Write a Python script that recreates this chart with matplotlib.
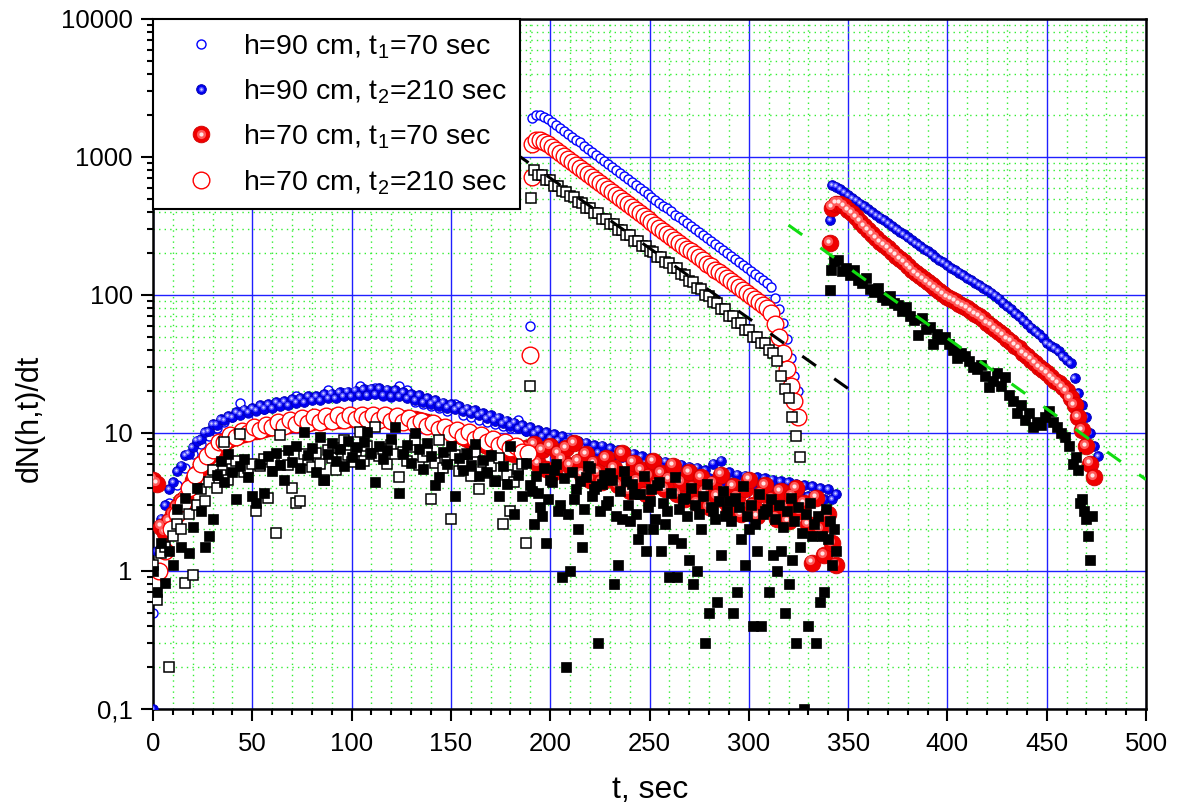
import numpy as np
import matplotlib
matplotlib.use("Agg")
import matplotlib.pyplot as plt
from matplotlib import transforms
from matplotlib.lines import Line2D
from matplotlib.legend_handler import HandlerTuple
from matplotlib.ticker import FixedLocator, FixedFormatter, LogLocator, MultipleLocator, NullFormatter

plt.rcParams['font.family'] = ['Liberation Sans', 'DejaVu Sans']
plt.rcParams['mathtext.fontset'] = 'custom'
plt.rcParams['mathtext.rm'] = 'Liberation Sans'

# ---------------- data ----------------
# early phase, t = 0, 2, 4 ... 344 s
blue_fill_early = [0.1, 1.4, 2.4, 3.0, 3.9, 4.4, 5.3, 5.8, 6.9, 7.1, 7.9, 8.8, 9.0, 10.1, 10.3, 11.6, 11.5, 12.6, 12.4, 13.3,
                   13.1, 14.2, 13.6, 14.8, 14.1, 15.2,
                   14.6, 15.9, 15.0, 16.2, 15.1, 16.8, 15.8, 17.0, 16.0, 17.6, 16.6, 17.8, 16.7, 18.4, 17.3, 18.6, 17.2, 19.2,
                   17.9, 19.3, 18.0, 19.8, 18.4, 19.9, 18.6,
                   20.3, 18.8, 20.7, 18.7, 21.0, 19.2, 21.2, 18.9, 20.6, 18.6, 20.5, 18.4, 19.8, 17.9, 19.2, 17.3, 18.7, 16.8,
                   17.8, 16.3, 17.2, 15.8, 16.6, 15.3, 16.1,
                   14.9, 15.7, 14.4, 15.0, 13.9, 14.6, 13.4, 13.9, 12.8, 13.5, 12.3, 12.9, 11.8, 12.3, 11.3, 11.9, 10.8, 11.4,
                   10.4, 11.0, 9.9, 10.5, 9.5, 10.1, 9.2,
                   9.8, 8.9, 9.5, 8.5, 9.1, 8.2, 8.8, 7.9, 8.5, 7.6, 8.2, 7.3, 8.1, 7.1, 7.8, 6.9, 7.5, 6.7, 7.3, 6.4, 7.1, 6.2,
                   6.8, 6.0, 6.6,
                   5.8, 6.4, 5.6, 6.2, 5.4, 6.0, 5.2, 5.9, 5.1, 5.7, 4.9, 5.6, 4.8, 5.4, 4.7, 6.0, 4.6, 6.3, 4.5, 5.2, 4.4, 5.0,
                   4.3, 4.9, 4.5,
                   4.2, 4.8, 4.1, 4.7, 4.0, 4.6, 3.9, 4.5, 3.8, 4.4, 3.7, 4.3, 3.6, 4.2, 3.5, 4.1, 3.4, 4.0, 3.3, 3.9, 3.3, 3.6]
red_fill_early = [4.6, 4.3, 2.1, 1.9, 2.3, 2.6, 2.9, 3.2, 3.4, 4.0,
                  4.6, 5.1, 5.6, 6.2, 6.8, 7.2, 7.7, 8.1, 8.5, 8.9,
                  9.2, 9.4, 9.7, 9.9, 10.1, 10.3, 10.4, 10.6, 10.7, 10.9,
                  11.0, 11.1, 11.3, 11.4, 11.5, 11.6, 11.7, 11.8, 11.9, 12.0,
                  12.1, 12.2, 12.2, 12.3, 12.4, 12.4, 12.5, 12.5, 12.6, 12.6,
                  12.7, 12.7, 12.8, 12.8, 12.8, 12.9, 12.9, 12.8, 12.8, 12.7,
                  12.6, 12.5, 12.4, 12.6, 12.8, 12.4, 12.6, 12.4, 12.3, 12.0,
                  11.7, 11.4, 11.1, 10.8, 10.5, 10.2, 9.9, 9.6, 9.3, 9.0,
                  8.8, 8.7, 8.5, 8.3, 8.1, 8.0, 7.8, 7.6, 7.5, 7.3,
                  7.2, 7.0, 7.4, 6.8, 7.8, 6.5, 8.3, 6.0, 7.5, 5.5,
                  8.0, 5.2, 7.2, 6.5, 7.8, 5.8, 8.5, 6.2, 5.0, 7.0,
                  4.6, 6.0, 5.2, 4.4, 6.6, 4.8, 5.6, 4.2, 7.2, 5.0,
                  3.8, 6.1, 4.5, 5.4, 3.6, 4.9, 6.3, 4.2, 5.1, 3.9,
                  4.6, 5.8, 3.6, 4.4, 3.3, 5.2, 4.0, 3.1, 4.8, 3.7,
                  2.9, 4.3, 3.5, 5.0, 3.2, 2.7, 4.1, 3.4, 2.6, 3.9,
                  4.6, 3.0, 2.5, 3.6, 4.2, 2.8, 3.3, 2.4, 3.8, 2.9,
                  2.3, 3.5, 4.0, 2.7, 3.1, 2.2, 1.15, 3.4, 2.0, 1.3,
                  2.6, 1.6, 1.1]
black_fill_early = [1.0, 0.7, 1.6, 0.82, 1.4, 1.1, 2.8, 1.5, 3.4, 1.35,
                    2.1, 4.0, 2.7, 1.5, 1.8, 2.4, 5.0, 6.3, 4.4, 7.0,
                    5.2, 3.3, 5.8, 6.5, 4.8, 3.5, 3.1, 6.0, 3.7, 6.8,
                    5.3, 7.2, 5.9, 4.6, 7.5, 6.2, 8.0, 5.6, 10.2, 6.9,
                    7.8, 5.2, 9.3, 4.6, 7.1, 8.4, 6.3, 7.7, 5.8, 8.8,
                    6.7, 7.9, 6.0, 8.6, 10.1, 7.2, 4.4, 8.1, 6.5, 7.5,
                    9.0, 11.0, 3.7, 7.0, 8.2, 6.1, 10.0, 7.6, 5.5, 8.5,
                    6.8, 4.2, 4.8, 7.3, 6.0, 8.0, 3.5, 6.6, 5.4, 7.1,
                    5.9, 8.3, 4.9, 6.4, 5.2, 6.9, 4.5, 3.5, 5.8, 4.3,
                    8.0, 2.6, 5.0, 3.5, 6.1, 4.2, 2.2, 3.7, 2.5, 1.6,
                    4.6, 5.4, 2.7, 0.9, 0.2, 1.0, 3.3, 2.0, 1.5, 4.8,
                    5.6, 3.9, 0.3, 4.3, 3.0, 5.1, 0.8, 1.1, 2.4, 4.5,
                    2.3, 3.6, 1.7, 2.0, 1.4, 3.2, 2.0, 4.2, 1.4, 2.2,
                    0.9, 1.7, 0.9, 1.6, 3.4, 1.2, 0.8, 1.0, 2.0, 0.3,
                    0.5, 2.7, 0.6, 1.3, 2.5, 3.2, 0.5, 0.7, 1.7, 1.1,
                    2.0, 0.4, 1.4, 0.4, 2.7, 0.7, 1.3, 1.0, 1.4, 0.5,
                    0.8, 1.2, 0.3, 1.5, 0.1, 0.4, 1.8, 0.3, 0.6, 0.7,
                    1.7, 1.1, 1.4]
# second black (filled) set, t = 191, 193 ... 343 s
black_fill_late = [3.8, 4.9, 2.9, 5.6, 3.3, 4.4, 6.0, 3.0, 4.7, 2.6,
                   5.2, 3.9, 4.5, 2.8, 5.8, 3.5, 4.1, 2.7, 5.0, 3.2,
                   4.6, 2.5, 3.8, 5.3, 3.0, 4.3, 2.6, 3.6, 4.9, 2.9,
                   3.9, 2.4, 4.4, 3.1, 2.7, 3.7, 4.8, 2.8, 3.3, 2.5,
                   4.0, 3.0, 2.6, 3.5, 4.3, 2.9, 2.4, 3.2, 3.8, 2.7,
                   2.3, 3.4, 2.9, 4.1, 2.5, 3.0, 2.2, 3.6, 2.6, 2.8,
                   3.3, 2.4, 3.0, 2.1, 2.7, 3.4, 2.3, 2.9, 1.9, 2.6,
                   3.1, 2.2, 2.5, 1.8, 2.8, 2.3, 2.0]
# t = 0, 4, 8 ... 188 s
blue_open_early = [0.5, 1.5, 3.1, 4.2, 5.6, 7.0, 8.3, 9.5, 10.8, 12.0,
                   13.0, 16.4, 13.9, 14.5, 14.9, 15.4, 15.9, 16.6, 18.6, 17.2,
                   17.8, 18.3, 20.4, 18.8, 19.4, 19.2, 21.8, 19.0, 21.2, 18.6,
                   18.2, 22.0, 20.5, 16.8, 16.2, 15.6, 15.1, 14.5, 16.3, 13.6,
                   13.0, 12.5, 12.1, 11.6, 11.2, 10.8, 12.4, 10.4]
# t = 0, 3, 6 ... 189 s
red_open_early = [0.8, 1.0, 1.4, 2.0, 2.6, 3.1, 4.0, 5.0, 6.0, 6.8,
                  7.5, 8.6, 8.6, 9.7, 9.4, 10.4, 10.0, 11.1, 10.5, 11.5,
                  11.0, 12.0, 11.3, 12.4, 11.6, 12.8, 11.9, 13.0, 12.1, 13.2,
                  12.3, 13.4, 12.4, 13.5, 12.6, 13.6, 12.7, 13.5, 12.5, 13.4,
                  12.2, 13.2, 12.0, 12.8, 11.7, 12.3, 11.2, 11.8, 10.7, 11.1,
                  10.0, 10.6, 9.5, 10.1, 9.1, 9.6, 8.6, 9.1, 8.2, 8.6,
                  7.8, 8.1, 7.3, 7.2]
# t = 0, 2 ... 188 s
black_open_early = [1.1, 0.62, 1.35, 1.5, 0.2, 1.8, 2.2, 2.0, 0.82, 2.6,
                    0.93, 3.0, 3.9, 3.2, 4.4, 5.4, 4.0, 5.0, 8.6, 4.6,
                    5.5, 6.3, 9.8, 5.2, 5.6, 6.0, 2.7, 5.8, 6.5, 3.4,
                    6.2, 1.9, 9.6, 6.8, 5.9, 4.0, 3.1, 3.2, 7.0, 6.4,
                    5.7, 7.2, 6.0, 4.6, 7.5, 6.6, 5.4, 7.8, 8.9, 6.9,
                    6.2, 7.4, 10.1, 6.3, 8.0, 7.1, 11.0, 6.8, 7.6, 6.0,
                    8.2, 7.0, 4.8, 7.3, 6.3, 7.9, 8.9, 5.9, 6.7, 7.4,
                    3.3, 6.1, 8.9, 5.6, 6.4, 2.4, 6.9, 5.3, 6.0, 7.0,
                    4.9, 7.3, 3.9, 6.2, 5.1, 5.8, 4.5, 6.6, 2.2, 5.0,
                    2.7, 4.4, 5.5, 6.0, 1.6]

# first pulse (open symbols), blue/red t = 191, 193 ... 325 s, black t = 192 ... 326 s
blue_open_pulse = [1905, 2018, 2018, 1950, 1884, 1799, 1718, 1633, 1552, 1479, 1406, 1337, 1274, 1211, 1151, 1096, 1042,
                   991, 940, 893, 849, 809, 769, 731, 697, 662, 631, 600, 570, 543, 516, 491, 468, 445, 424, 403, 383,
                   365, 347, 330, 314, 299, 284, 270, 257, 245, 233, 222, 211, 200, 191, 182, 173, 164, 156, 149, 142,
                   135, 128, 122, 115, 95, 79, 63, 48, 35, 26, 20]
red_open_pulse = [1250, 1330, 1320, 1280, 1240, 1184, 1130, 1074, 1021, 973, 925, 880, 838, 797, 757, 721, 686, 652,
                  618, 588, 559, 532, 506, 481, 459, 436, 415, 395, 375, 357, 339, 323, 308, 293, 279, 265, 252, 240,
                  228, 217, 207, 197, 187, 178, 169, 161, 153, 146, 139, 132, 126, 120, 114, 108, 103, 98, 93, 89, 84,
                  80, 74, 62, 50, 38, 29, 22, 17, 13]
black_open_pulse = [800, 745, 740, 680, 676, 620, 615, 565, 562, 520, 512, 470, 468, 430, 428, 392, 390, 358, 356, 328,
                    326, 298, 297, 272, 271, 248, 247, 226, 225, 207, 205, 189, 188, 172, 171, 157, 156, 142, 139, 127,
                    125, 113, 111, 100, 99, 89, 88, 79, 79, 71, 70, 63, 63, 56, 56, 50, 50, 45, 45, 40, 38, 33, 26, 21,
                    18, 13, 9.5, 6.7]
# jump points at the start of the first pulse
blue_open_jump_t, blue_open_jump = [190], [60]
red_open_jump_t, red_open_jump = [190, 191], [37, 716]
black_open_jump_t, black_open_jump = [190, 190.5], [22, 505]

# second pulse (filled symbols), blue/red t = 342, 344 ..., black t = 343, 345 ... 465 s
blue_fill_pulse = [627, 610, 582, 556, 530, 506, 482, 460, 440, 419, 400, 381, 364, 348, 331, 316, 301, 288, 275, 262,
                   250, 238, 228, 217, 207, 198, 188, 180, 172, 164, 157, 151, 145, 139, 133, 128, 123, 118, 113, 109,
                   104, 99, 94, 88, 83, 79, 74, 70, 66, 62, 58, 55, 52, 49, 45, 43, 41, 39, 36, 34, 32, 25, 19.5, 16,
                   13, 10, 8, 6.8]
red_fill_pulse = [430, 460, 460, 440, 415, 390, 365, 340, 315, 295, 275, 258, 242, 230, 218, 205, 193, 182, 172, 162,
                  153, 145, 138, 131, 124, 118, 112, 107, 102, 97, 94, 90, 86, 83, 80, 76, 73, 70, 67, 63,
                  60, 57, 54, 51, 48, 46, 43, 41, 38, 36, 34, 32, 30, 28.5, 27, 25.5, 24, 23, 21.5, 20,
                  18, 16, 13, 10.5, 8, 6, 4.8]
black_fill_pulse = [175, 180, 150, 158, 140, 152, 128, 122, 132, 110, 105, 112, 97, 92, 98, 87, 84, 77, 82, 70,
                    66, 51, 68, 57, 59, 44, 52, 48, 50, 44, 40, 35, 38, 36, 33, 30, 29, 31, 26, 21.5,
                    24, 27, 22, 25.5, 19, 17, 14, 16, 12.5, 14, 11, 12, 11.5, 13, 14.5, 12, 11, 10, 9.3, 8,
                    6, 6.7]
black_fill_tail_t = [466, 467, 468, 469, 470, 471, 472, 473]
black_fill_tail = [5.4, 3.1, 3.3, 2.7, 2.4, 1.8, 1.2, 2.5]
blue_fill_jump_t, blue_fill_jump = [341], [350]
red_fill_jump_t, red_fill_jump = [341], [238]
black_fill_jump_t, black_fill_jump = [341, 341.5], [109, 151]

# fitted exponentials (end points)
fit_black_t, fit_black = [150, 350], [2270, 21]
fit_green_t, fit_green = [320, 500], [321, 4.6]

labels = [r'h=90 cm, t$_{\mathregular{1}}$=70 sec', r'h=90 cm, t$_{\mathregular{2}}$=210 sec',
          r'h=70 cm, t$_{\mathregular{1}}$=70 sec', r'h=70 cm, t$_{\mathregular{2}}$=210 sec']


def tgrid(vals, start, step):
    return start + step * np.arange(len(vals))


fig = plt.figure(figsize=(11.81, 8.11), dpi=100)
ax = fig.add_axes([153 / 1181, 1 - 709 / 811, 993 / 1181, 690 / 811])
ax.set_yscale('log')
ax.set_xlim(0, 500)
ax.set_ylim(0.1, 10000)


def sphere(t, y, ms, base, edge, mid, hi, z):
    ax.plot(t, y, 'o', ls='none', ms=ms, mfc=base, mec=edge, mew=0.6, zorder=z)
    off = transforms.offset_copy(ax.transData, fig=fig, x=-ms * 0.13, y=ms * 0.13, units='points')
    ax.plot(t, y, 'o', ls='none', ms=ms * 0.55, mfc=mid, mec='none', zorder=z, transform=off)
    ax.plot(t, y, 'o', ls='none', ms=ms * 0.25, mfc=hi, mec='none', zorder=z, transform=off)


BLUE = '#0000ff'
RED = '#ff0000'

# h=90 t1 (open blue)
bo = dict(ls='none', marker='o', ms=6.5, mfc='white', mec=BLUE, mew=1.0, zorder=2)
ax.plot(tgrid(blue_open_early, 0, 4), blue_open_early, **bo)
ax.plot(blue_open_jump_t, blue_open_jump, **bo)
ax.plot(tgrid(blue_open_pulse, 191, 2), blue_open_pulse, **bo)

# h=90 t2 (filled blue)
sph_b = dict(ms=7, base='#0000f0', edge='#0000b0', mid='#4a4aff', hi='#d0d0ff')
sphere(tgrid(blue_fill_early, 0, 2), blue_fill_early, z=3, **sph_b)
sphere(blue_fill_jump_t, blue_fill_jump, z=3, **sph_b)
sphere(tgrid(blue_fill_pulse, 342, 2), blue_fill_pulse, z=3, **sph_b)

# h=70 t1 (filled red)
sph_r = dict(ms=12, base='#f00000', edge='#d00000', mid='#ff5a5a', hi='#ffe6e6')
sphere(tgrid(red_fill_early, 0, 2), red_fill_early, z=4, **sph_r)
sphere(red_fill_jump_t, red_fill_jump, z=4, **sph_r)
sphere(tgrid(red_fill_pulse, 342, 2), red_fill_pulse, z=4, **sph_r)

# h=70 t2 (open red)
ro = dict(ls='none', marker='o', ms=12, mfc='white', mec=RED, mew=1.0, zorder=5)
ax.plot(tgrid(red_open_early, 0, 3), red_open_early, **ro)
ax.plot(red_open_jump_t, red_open_jump, **ro)
ax.plot(tgrid(red_open_pulse, 191, 2), red_open_pulse, **ro)

# black reference sets
ko = dict(ls='none', marker='s', ms=6.5, mfc='white', mec='black', mew=1.1, zorder=6)
ax.plot(tgrid(black_open_early, 0, 2), black_open_early, **ko)
ax.plot(black_open_jump_t, black_open_jump, **ko)
ax.plot(tgrid(black_open_pulse, 192, 2), black_open_pulse, **ko)

kf = dict(ls='none', marker='s', ms=7, mfc='black', mec='black', mew=0.5, zorder=7)
ax.plot(tgrid(black_fill_early, 0, 2), black_fill_early, **kf)
ax.plot(tgrid(black_fill_late, 191, 2), black_fill_late, **kf)
ax.plot(black_fill_jump_t, black_fill_jump, **kf)
ax.plot(tgrid(black_fill_pulse, 343, 2), black_fill_pulse, **kf)
ax.plot(black_fill_tail_t, black_fill_tail, **kf)

# fits
ax.plot(fit_black_t, fit_black, color='black', lw=2.2, ls=(0, (5.5, 7.3)), zorder=8)
ax.plot(fit_green_t, fit_green, color='#11dd11', lw=2.2, ls=(0, (5.5, 7.3)), zorder=8)

# axes cosmetics
ax.set_axisbelow(True)
ax.xaxis.set_major_locator(MultipleLocator(50))
ax.xaxis.set_minor_locator(MultipleLocator(10))
ax.yaxis.set_major_locator(FixedLocator([0.1, 1, 10, 100, 1000, 10000]))
ax.yaxis.set_major_formatter(FixedFormatter(['0,1', '1', '10', '100', '1000', '10000']))
ax.yaxis.set_minor_locator(LogLocator(base=10, subs=np.arange(2, 10)))
ax.yaxis.set_minor_formatter(NullFormatter())
ax.grid(which='major', color='#2020ff', lw=1.0, ls='-')
ax.grid(which='minor', color='#33ee33', lw=1.0, ls=(0, (1, 3)))
ax.tick_params(which='major', direction='out', length=8.5, width=1.5, labelsize=18.5, top=False, right=False)
ax.tick_params(axis='x', which='major', pad=8)
ax.tick_params(axis='y', which='major', pad=6)
ax.tick_params(which='minor', direction='out', length=4.2, width=1.5, top=False, right=False)
for s in ax.spines.values():
    s.set_linewidth(1.8)

fig.text(30 / 1181, 1 - 418 / 811, 'dN(h,t)/dt', rotation=90, ha='center', va='center', fontsize=22)
fig.text(650 / 1181, 1 - 790 / 811, 't, sec', ha='center', va='center', fontsize=23)

# legend
def leg_sphere(ms, base, edge, mid, hi):
    return (Line2D([], [], ls='none', marker='o', ms=ms, mfc=base, mec=edge, mew=0.6),
            Line2D([], [], ls='none', marker='o', ms=ms * 0.55, mfc=mid, mec='none'),
            Line2D([], [], ls='none', marker='o', ms=ms * 0.25, mfc=hi, mec='none'))


handles = [Line2D([], [], **{k: v for k, v in bo.items() if k != 'zorder'}),
           leg_sphere(**sph_b),
           leg_sphere(**sph_r),
           Line2D([], [], **{k: v for k, v in ro.items() if k != 'zorder'})]
leg = ax.legend(handles, labels, loc='upper left', bbox_to_anchor=(0, 1), borderaxespad=0,
                fontsize=20.5, handlelength=2.5, handletextpad=0.22, labelspacing=0.58, borderpad=0.45,
                fancybox=False, framealpha=1, edgecolor='black',
                handler_map={tuple: HandlerTuple(ndivide=1)})
leg.get_frame().set_linewidth(1.5)
leg.set_zorder(20)

fig.savefig('out.png', dpi=100)
